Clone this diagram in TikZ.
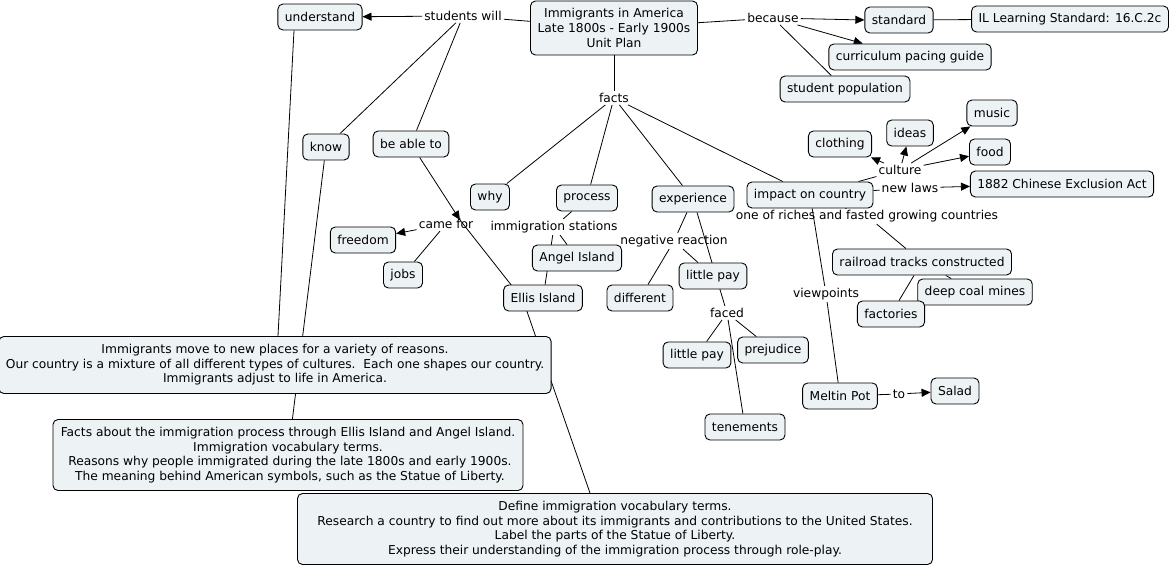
\documentclass[tikz,border=0pt]{standalone}
\usepackage{fontspec}
\setmainfont{DejaVu Sans}
\usetikzlibrary{arrows.meta,backgrounds}
\definecolor{boxfill}{RGB}{237,242,245}
\begin{document}
\begin{tikzpicture}[x=1pt,y=-1pt,
  font=\fontsize{12.25}{14.6}\selectfont,
  concept/.style={draw=black, line width=0.9pt, rounded corners=5pt, fill=boxfill, inner xsep=7pt, inner ysep=3pt, minimum height=26pt, align=center},
  lbl/.style={inner sep=2pt, align=center},
  link/.style={draw=black, line width=0.8pt},
  arr/.style={link, -{Triangle[length=9pt,width=8pt]}}]
\useasboundingbox (0,0) rectangle (1176,567);

% concepts
\node[concept, minimum height=54pt, minimum width=167pt] (main) at (614,28) {Immigrants in America\\Late 1800s - Early 1900s\\Unit Plan};
\node[concept] (understand) at (320,17) {understand};
\node[concept] (standard) at (899,20) {standard};
\node[concept] (il) at (1070,19) {IL Learning Standard: 16.C.2c};
\node[concept] (cpg) at (910,57) {curriculum pacing guide};
\node[concept] (studpop) at (845,89) {student population};
\node[concept] (music) at (992,113) {music};
\node[concept] (ideas) at (910,133) {ideas};
\node[concept] (clothing) at (840,144) {clothing};
\node[concept] (food) at (990,152) {food};
\node[concept] (chinese) at (1062,184) {1882 Chinese Exclusion Act};
\node[concept] (impact) at (810,195) {impact on country};
\node[concept] (know) at (326,147) {know};
\node[concept] (beable) at (411,144) {be able to};
\node[concept] (why) at (490,197) {why};
\node[concept] (process) at (587,198) {process};
\node[concept] (experience) at (693,199) {experience};
\node[concept] (freedom) at (363,240) {freedom};
\node[concept] (jobs) at (403,275) {jobs};
\node[concept] (angel) at (577,258) {Angel Island};
\node[concept] (ellis) at (543,298) {Ellis Island};
\node[concept] (different) at (640,298) {different};
\node[concept] (lp1) at (713,276) {little pay};
\node[concept] (railroad) at (922,262) {railroad tracks constructed};
\node[concept] (deepcoal) at (975,292) {deep coal mines};
\node[concept] (factories) at (891,314) {factories};
\node[concept] (lp2) at (697,355) {little pay};
\node[concept] (prejudice) at (773,350) {prejudice};
\node[concept] (meltin) at (840,396) {Meltin Pot};
\node[concept] (salad) at (955,391) {Salad};
\node[concept] (tenements) at (745,427) {tenements};
\node[concept, minimum width=549pt, minimum height=57pt] (big1) at (275,365) {Immigrants move to new places for a variety of reasons.\\Our country is a mixture of all different types of cultures.\ \ Each one shapes our country.\\Immigrants adjust to life in America.};
\node[concept, minimum width=470pt, minimum height=71pt] (big2) at (288,455) {Facts about the immigration process through Ellis Island and Angel Island.\\Immigration vocabulary terms.\\\ Reasons why people immigrated during the late 1800s and early 1900s.\\\ The meaning behind American symbols, such as the Statue of Liberty.};
\node[concept, minimum width=635pt, minimum height=71pt] (big3) at (615,529) {Define immigration vocabulary terms.\\Research a country to find out more about its immigrants and contributions to the United States.\\Label the parts of the Statue of Liberty.\\Express their understanding of the immigration process through role-play.};

% linking phrases
\node[lbl] (studentswill) at (463,16) {students will};
\node[lbl] (because) at (773,18) {because};
\node[lbl] (facts) at (614,98) {facts};
\node[lbl] (culture) at (900,170) {culture};
\node[lbl] (newlaws) at (910,188) {new laws};
\node[lbl] (oneof) at (867,216) {one of riches and fasted growing countries};
\node[lbl] (camefor) at (446,224) {came for};
\node[lbl] (immst) at (554,227) {immigration stations};
\node[lbl] (negreact) at (674,241) {negative reaction};
\node[lbl] (faced) at (727,313) {faced};
\node[lbl] (viewpoints) at (826,294) {viewpoints};
\node[lbl] (to) at (899,394) {to};

\coordinate (cftip) at (460,220);
\coordinate (bendA) at (523,300);

\begin{pgfonlayer}{background}
\draw[link] (main) -- (studentswill);
\draw[arr] (studentswill) -- (understand);
\draw[link] (studentswill) -- (know);
\draw[link] (studentswill) -- (beable);
\draw[link] ([xshift=-26pt]understand.south) -- ([xshift=3pt]big1.north);
\draw[link] (know) -- (big2);
\draw[arr] (beable) -- (cftip);
\draw[link] (cftip) -- (bendA) -- ([xshift=-25pt]big3.north);
\draw[arr] (camefor) -- (freedom);
\draw[link] (camefor) -- (jobs);
\draw[link] (main) -- (because);
\draw[arr] (because) -- (standard.west);
\draw[arr] (because) -- (cpg);
\draw[link] (because) -- (studpop);
\draw[link] (standard) -- (il);
\draw[link] (main) -- (facts);
\draw[link] (facts) -- (why);
\draw[link] (facts) -- (process);
\draw[link] (facts) -- (experience);
\draw[link] (facts) -- (impact);
\draw[link] (process) -- (immst);
\draw[link] (immst) -- (angel);
\draw[link] (immst) -- (ellis);
\draw[link] (experience) -- (negreact);
\draw[link] (negreact) -- (different);
\draw[link] (negreact) -- (lp1);
\draw[link] (experience) -- (faced);
\draw[link] (faced) -- (lp2);
\draw[link] (faced) -- (prejudice);
\draw[link] (faced) -- (tenements);
\draw[link] (impact) -- (culture);
\draw[arr] (culture) -- (clothing);
\draw[arr] (culture) -- (ideas);
\draw[arr] (culture) -- (music);
\draw[arr] (culture) -- (food);
\draw[link] (impact) -- (newlaws);
\draw[arr] (newlaws) -- (chinese);
\draw[link] (impact) -- (oneof);
\draw[link] (oneof) -- (railroad);
\draw[link] (railroad) -- (factories);
\draw[link] (railroad) -- (deepcoal);
\draw[link] (impact) -- (viewpoints);
\draw[link] (viewpoints) -- (meltin);
\draw[link] (meltin) -- (to);
\draw[arr] (to) -- (salad);
\end{pgfonlayer}
\end{tikzpicture}
\end{document}
